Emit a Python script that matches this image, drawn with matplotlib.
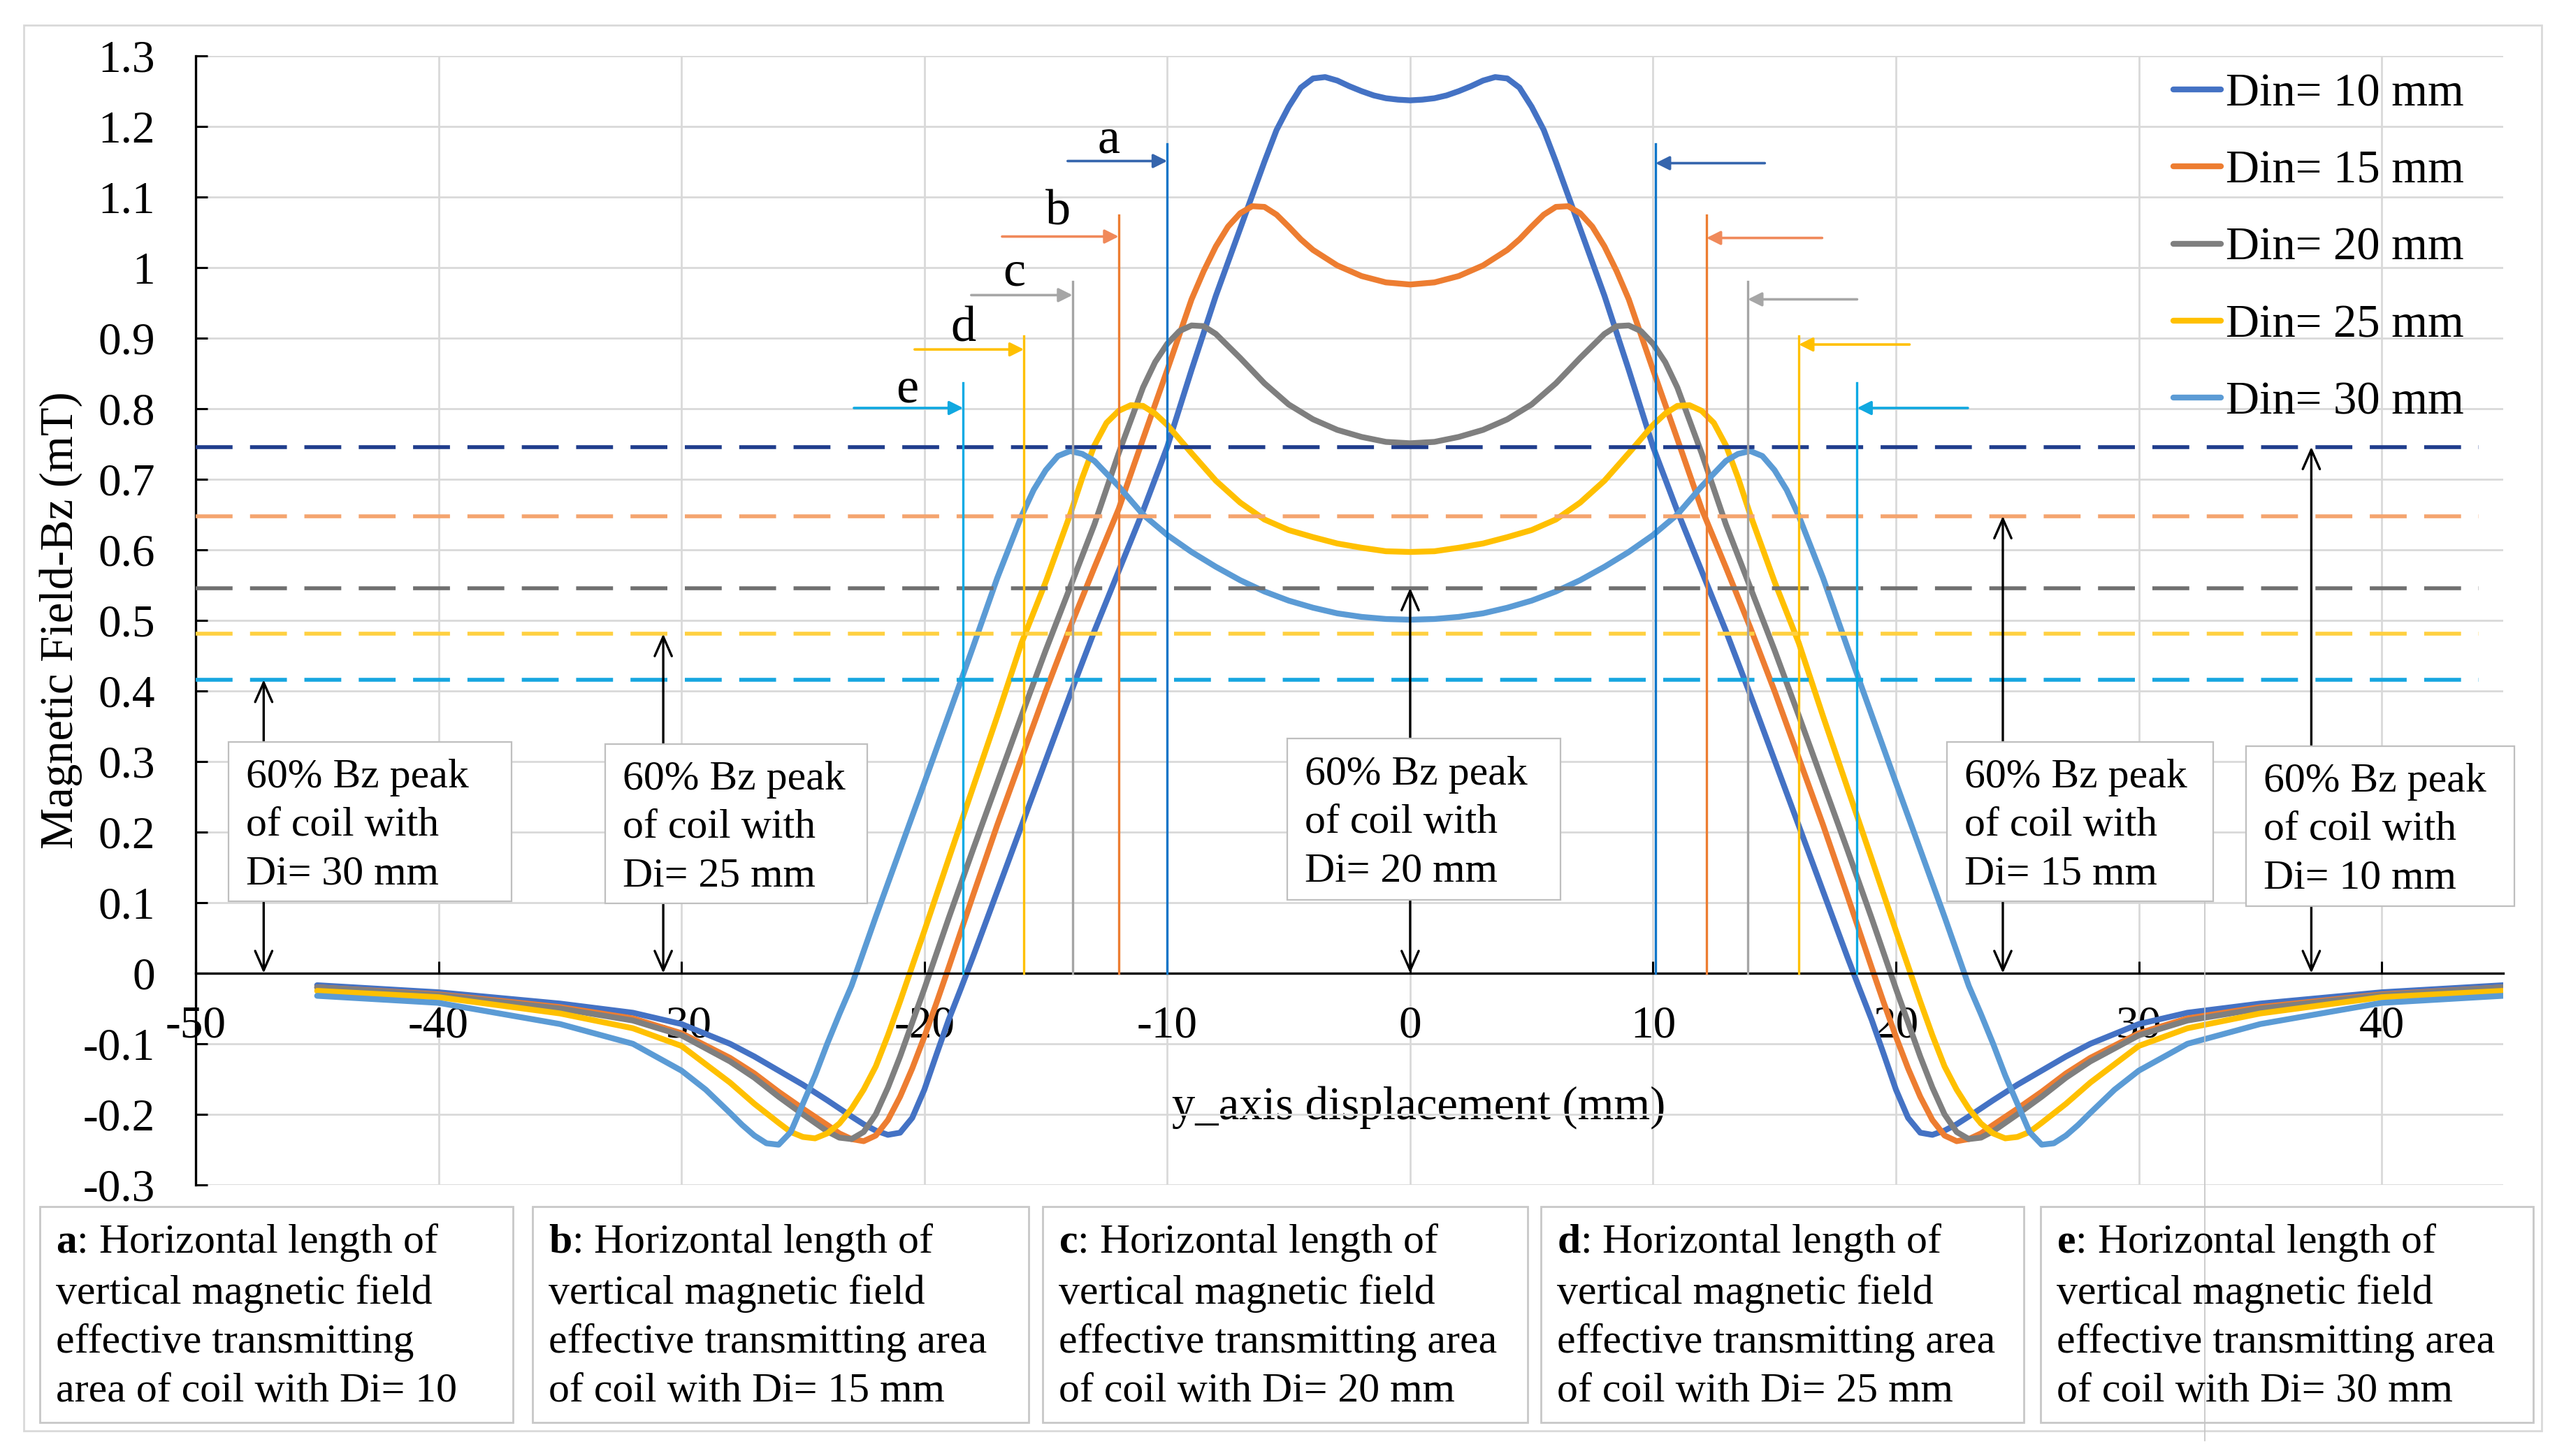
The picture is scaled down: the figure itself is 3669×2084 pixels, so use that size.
import matplotlib
matplotlib.use("Agg")
import matplotlib.pyplot as plt
from matplotlib.patches import Rectangle
from matplotlib.lines import Line2D

plt.rcParams['font.family'] = ['Liberation Serif', 'DejaVu Serif']
plt.rcParams['mathtext.fontset'] = 'custom'
plt.rcParams['mathtext.rm'] = 'Liberation Serif'
plt.rcParams['mathtext.bf'] = 'Liberation Serif:bold'

# ---- data (y displacement in mm, Bz in mT) ----
x_din10 = [-45, -40, -35, -32, -30, -28, -27, -26, -25, -24, -23, -22.5, -22, -21.5, -21,
           -20.5, -20, -19.5, -19, -18.5, -18, -17, -16, -15, -14, -13, -12, -11, -10, -9,
           -8, -7, -6, -5.5, -5, -4.5, -4, -3.5, -3, -2.5, -2, -1.5, -1, -0.5, 0,
           0.5, 1, 1.5, 2, 2.5, 3, 3.5, 4, 4.5, 5, 5.5, 6, 7, 8, 9, 10, 11, 12, 13, 14,
           15, 16, 17, 18, 18.5, 19, 19.5, 20, 20.5, 21, 21.5, 22, 22.5, 23, 24, 25, 26,
           27, 28, 30, 32, 35, 40, 45]
bz_din10 = [-0.017, -0.027, -0.043, -0.056, -0.072, -0.100, -0.118, -0.138, -0.158, -0.180,
            -0.203, -0.214, -0.223, -0.229, -0.226, -0.205, -0.165, -0.115, -0.066, -0.022,
            0.023, 0.116, 0.209, 0.302, 0.395, 0.485, 0.570, 0.655, 0.746, 0.855, 0.960,
            1.055, 1.150, 1.195, 1.228, 1.255, 1.268, 1.270, 1.265, 1.257, 1.250, 1.244,
            1.240, 1.238, 1.237,
            1.238, 1.240, 1.244, 1.250, 1.257, 1.265, 1.270, 1.268, 1.255, 1.228, 1.195,
            1.150, 1.055, 0.960, 0.855, 0.746, 0.655, 0.570, 0.485, 0.395, 0.302, 0.209,
            0.116, 0.023, -0.022, -0.066, -0.115, -0.165, -0.205, -0.226, -0.229, -0.223,
            -0.214, -0.203, -0.180, -0.158, -0.138, -0.118, -0.100, -0.072, -0.056, -0.043,
            -0.027, -0.017]

x_din15 = [-45, -40, -35, -32, -30, -28, -27, -26, -25, -24, -23.5, -23, -22.5, -22, -21.5,
           -21, -20.5, -20, -19.5, -19, -18, -17, -16, -15, -14, -13, -12, -11, -10, -9,
           -8.5, -8, -7.5, -7, -6.5, -6, -5.5, -5, -4.5, -4, -3, -2, -1, 0,
           1, 2, 3, 4, 4.5, 5, 5.5, 6, 6.5, 7, 7.5, 8, 8.5, 9, 10, 11, 12, 13, 14, 15, 16,
           17, 18, 19, 19.5, 20, 20.5, 21, 21.5, 22, 22.5, 23, 23.5, 24, 25, 26, 27, 28,
           30, 32, 35, 40, 45]
bz_din15 = [-0.020, -0.030, -0.048, -0.064, -0.085, -0.120, -0.142, -0.168, -0.192, -0.215,
            -0.227, -0.235, -0.238, -0.230, -0.208, -0.175, -0.135, -0.090, -0.042, 0.008,
            0.110, 0.210, 0.305, 0.400, 0.490, 0.575, 0.658, 0.757, 0.855, 0.955, 0.995,
            1.030, 1.058, 1.077, 1.087, 1.086, 1.075, 1.058, 1.040, 1.025, 1.003, 0.988,
            0.979, 0.976,
            0.979, 0.988, 1.003, 1.025, 1.040, 1.058, 1.075, 1.086, 1.087, 1.077, 1.058,
            1.030, 0.995, 0.955, 0.855, 0.757, 0.658, 0.575, 0.490, 0.400, 0.305, 0.210,
            0.110, 0.008, -0.042, -0.090, -0.135, -0.175, -0.208, -0.230, -0.238, -0.235,
            -0.227, -0.215, -0.192, -0.168, -0.142, -0.120, -0.085, -0.064, -0.048, -0.030,
            -0.020]

x_din20 = [-45, -40, -35, -32, -30, -28, -27, -26, -25, -24, -23.5, -23, -22.5, -22, -21.5,
           -21, -20.5, -20, -19, -18, -17, -16, -15, -14, -13, -12, -11, -10.5, -10, -9.5,
           -9, -8.5, -8, -7, -6, -5, -4, -3, -2, -1, 0,
           1, 2, 3, 4, 5, 6, 7, 8, 8.5, 9, 9.5, 10, 10.5, 11, 12, 13, 14, 15, 16, 17, 18,
           19, 20, 20.5, 21, 21.5, 22, 22.5, 23, 23.5, 24, 25, 26, 27, 28, 30, 32, 35, 40, 45]
bz_din20 = [-0.020, -0.031, -0.050, -0.067, -0.088, -0.125, -0.148, -0.175, -0.200, -0.224,
            -0.233, -0.235, -0.225, -0.200, -0.162, -0.118, -0.070, -0.022, 0.078, 0.175,
            0.270, 0.365, 0.458, 0.547, 0.636, 0.737, 0.830, 0.866, 0.892, 0.910, 0.918,
            0.917, 0.906, 0.872, 0.836, 0.806, 0.785, 0.770, 0.760, 0.753, 0.751,
            0.753, 0.760, 0.770, 0.785, 0.806, 0.836, 0.872, 0.906, 0.917, 0.918, 0.910,
            0.892, 0.866, 0.830, 0.737, 0.636, 0.547, 0.458, 0.365, 0.270, 0.175, 0.078,
            -0.022, -0.070, -0.118, -0.162, -0.200, -0.225, -0.235, -0.233, -0.224, -0.200,
            -0.175, -0.148, -0.125, -0.088, -0.067, -0.050, -0.031, -0.020]

x_din25 = [-45, -40, -35, -32, -30, -28, -27, -26, -25.5, -25, -24.5, -24, -23.5, -23, -22.5,
           -22, -21.5, -21, -20, -19, -18, -17, -16, -15, -14, -13.5, -13, -12.5, -12, -11.5,
           -11, -10.5, -10, -9, -8, -7, -6, -5, -4, -3, -2, -1, 0,
           1, 2, 3, 4, 5, 6, 7, 8, 9, 10, 10.5, 11, 11.5, 12, 12.5, 13, 13.5, 14, 15, 16,
           17, 18, 19, 20, 21, 21.5, 22, 22.5, 23, 23.5, 24, 24.5, 25, 25.5, 26, 27, 28, 30,
           32, 35, 40, 45]
bz_din25 = [-0.025, -0.034, -0.057, -0.078, -0.103, -0.155, -0.185, -0.212, -0.225, -0.232,
            -0.234, -0.227, -0.213, -0.192, -0.165, -0.132, -0.088, -0.040, 0.060, 0.162,
            0.263, 0.364, 0.468, 0.555, 0.650, 0.702, 0.748, 0.780, 0.797, 0.805, 0.804,
            0.793, 0.777, 0.737, 0.698, 0.667, 0.643, 0.628, 0.618, 0.609, 0.603, 0.598,
            0.597,
            0.598, 0.603, 0.609, 0.618, 0.628, 0.643, 0.667, 0.698, 0.737, 0.777, 0.793,
            0.804, 0.805, 0.797, 0.780, 0.748, 0.702, 0.650, 0.555, 0.468, 0.364, 0.263,
            0.162, 0.060, -0.040, -0.088, -0.132, -0.165, -0.192, -0.213, -0.227, -0.234,
            -0.232, -0.225, -0.212, -0.185, -0.155, -0.103, -0.078, -0.057, -0.034, -0.025]

x_din30 = [-45, -40, -35, -32, -30, -29, -28, -27.5, -27, -26.5, -26, -25.5, -25, -24.5, -24,
           -23.5, -23, -22, -21, -20, -19, -18, -17, -16, -15.5, -15, -14.5, -14, -13.5, -13,
           -12, -11, -10, -9, -8, -7, -6, -5, -4, -3, -2, -1, 0,
           1, 2, 3, 4, 5, 6, 7, 8, 9, 10, 11, 12, 13, 13.5, 14, 14.5, 15, 15.5, 16, 17, 18,
           19, 20, 21, 22, 23, 23.5, 24, 24.5, 25, 25.5, 26, 26.5, 27, 27.5, 28, 29, 30, 32,
           35, 40, 45]
bz_din30 = [-0.032, -0.042, -0.072, -0.100, -0.138, -0.165, -0.198, -0.215, -0.230, -0.241,
            -0.243, -0.225, -0.185, -0.145, -0.100, -0.058, -0.018, 0.080, 0.175, 0.270,
            0.366, 0.462, 0.560, 0.648, 0.685, 0.713, 0.733, 0.740, 0.736, 0.726, 0.690,
            0.650, 0.621, 0.597, 0.576, 0.557, 0.541, 0.528, 0.518, 0.510, 0.505, 0.502,
            0.501,
            0.502, 0.505, 0.510, 0.518, 0.528, 0.541, 0.557, 0.576, 0.597, 0.621, 0.650,
            0.690, 0.726, 0.736, 0.740, 0.733, 0.713, 0.685, 0.648, 0.560, 0.462, 0.366,
            0.270, 0.175, 0.080, -0.018, -0.058, -0.100, -0.145, -0.185, -0.225, -0.243,
            -0.241, -0.230, -0.215, -0.198, -0.165, -0.138, -0.100, -0.072, -0.042, -0.032]

series_x = [x_din10, x_din15, x_din20, x_din25, x_din30]
series_y = [bz_din10, bz_din15, bz_din20, bz_din25, bz_din30]
series_labels = ['Din= 10 mm', 'Din= 15 mm', 'Din= 20 mm', 'Din= 25 mm', 'Din= 30 mm']
series_colors = ['#4472C4', '#ED7D31', '#7F7F7F', '#FFC000', '#5B9BD5']

# 60 % of peak levels
level_vals = [0.746, 0.648, 0.546, 0.481, 0.416]
level_colors = ['#1F3C8C', '#F4A46E', '#6F6F6F', '#FFD040', '#16A6E0']

# effective-area markers a..e
mark_names = ['a', 'b', 'c', 'd', 'e']
mark_left = [-10.0, -12.0, -13.9, -15.9, -18.4]
mark_right = [10.1, 12.2, 13.9, 16.0, 18.4]
mark_colors = ['#0F75C8', '#ED7D31', '#A5A5A5', '#FFC000', '#0AAAE4']
arrow_colors = ['#3565AD', '#F0895A', '#A6A6A6', '#FFC000', '#10A8E0']

# black 60 % arrows and their notes
note_x = [-47.2, -30.75, 0.0, 24.4, 37.1]
note_top = [0.416, 0.481, 0.546, 0.648, 0.746]
note_di = ['Di= 30 mm', 'Di= 25 mm', 'Di= 20 mm', 'Di= 15 mm', 'Di= 10 mm']

x_ticks = [-50, -40, -30, -20, -10, 0, 10, 20, 30, 40]
x_tick_labels = ['-50', '-40', '-30', '-20', '-10', '0', '10', '20', '30', '40']
y_ticks = [-0.3, -0.2, -0.1, 0.0, 0.1, 0.2, 0.3, 0.4, 0.5, 0.6, 0.7, 0.8, 0.9, 1.0, 1.1, 1.2, 1.3]
y_tick_labels = ['-0.3', '-0.2', '-0.1', '0', '0.1', '0.2', '0.3', '0.4', '0.5', '0.6', '0.7',
                 '0.8', '0.9', '1', '1.1', '1.2', '1.3']

bottom_notes = [
    r'$\mathbf{a}$: Horizontal length of' + '\nvertical magnetic field\neffective transmitting\narea of coil with Di= 10',
    r'$\mathbf{b}$: Horizontal length of' + '\nvertical magnetic field\neffective transmitting area\nof coil with Di= 15 mm',
    r'$\mathbf{c}$: Horizontal length of' + '\nvertical magnetic field\neffective transmitting area\nof coil with Di= 20 mm',
    r'$\mathbf{d}$: Horizontal length of' + '\nvertical magnetic field\neffective transmitting area\nof coil with Di= 25 mm',
    r'$\mathbf{e}$: Horizontal length of' + '\nvertical magnetic field\neffective transmitting area\nof coil with Di= 30 mm',
]

W, H = 3669, 2084


def fx(px):
    return px / W


def fy(py):
    return 1 - py / H


fig = plt.figure(figsize=(W / 100, H / 100), dpi=100)
fig.patch.set_facecolor('white')

# outer frame of the whole picture
fig.add_artist(Rectangle((fx(34), fy(2048)), (3637 - 34) / W, (2048 - 36) / H,
                         transform=fig.transFigure, fill=False, ec='#D9D9D9', lw=2))
# stray thin line at the lower right
fig.add_artist(Line2D([fx(3155), fx(3155)], [fy(1291), fy(2062)], transform=fig.transFigure,
                      color='#C4C4C4', lw=1.2))

ax = fig.add_axes([fx(280), fy(1696), (3582 - 280) / W, (1696 - 80) / H])
ax.set_xlim(-50, 45)
ax.set_ylim(-0.3, 1.3)
ax.set_xticks(x_ticks)
ax.set_xticklabels(x_tick_labels)
ax.set_yticks(y_ticks)
ax.set_yticklabels(y_tick_labels)
ax.spines['bottom'].set_position(('data', 0))
ax.spines['top'].set_visible(False)
ax.spines['right'].set_visible(False)
for s in ['left', 'bottom']:
    ax.spines[s].set_linewidth(2.4)
    ax.spines[s].set_color('black')
ax.tick_params(axis='both', direction='in', length=12, width=2.2, labelsize=47)
ax.tick_params(axis='x', pad=33)
ax.tick_params(axis='y', pad=42)
ax.grid(True, color='#D9D9D9', lw=2)
ax.set_axisbelow(True)

ax.set_xlabel('y_axis displacement (mm)', fontsize=48)
ax.xaxis.set_label_coords(0.530, 0.088)
ax.set_ylabel('Magnetic Field-Bz (mT)', fontsize=48)
ax.yaxis.set_label_coords(-0.049, 0.5)

# curves
handles = []
for xs, vals, lab, col in zip(series_x, series_y, series_labels, series_colors):
    ln, = ax.plot(xs, vals, color=col, lw=6, label=lab, zorder=2,
                  solid_joinstyle='round', solid_capstyle='round')
    handles.append(ln)

# 60 % dashed levels
for v, c in zip(level_vals, level_colors):
    ax.plot([-50, 44], [v, v], color=c, lw=4, dashes=(9.5, 4.5), zorder=3)

# marker lines with arrows and letters
mark_top = [1.175, 1.074, 0.980, 0.903, 0.837]
arr_y_left = [1.151, 1.044, 0.961, 0.884, 0.801]
arr_y_right = [1.148, 1.042, 0.955, 0.891, 0.801]
arr_start_left = [-14.1, -16.8, -18.07, -20.4, -22.9]
arr_start_right = [14.6, 16.96, 18.4, 20.56, 22.96]
letter_xy = [(-12.4, 1.18), (-14.5, 1.078), (-16.3, 0.992), (-18.4, 0.913), (-20.7, 0.827)]
for i in range(5):
    for xm in (mark_left[i], mark_right[i]):
        ax.plot([xm, xm], [0, mark_top[i]], color=mark_colors[i], lw=2.4, zorder=3)
    ax.annotate('', xy=(mark_left[i], arr_y_left[i]), xytext=(arr_start_left[i], arr_y_left[i]),
                arrowprops=dict(arrowstyle='-|>', color=arrow_colors[i], lw=2.6,
                                mutation_scale=30, shrinkA=0, shrinkB=0), zorder=4)
    ax.annotate('', xy=(mark_right[i], arr_y_right[i]), xytext=(arr_start_right[i], arr_y_right[i]),
                arrowprops=dict(arrowstyle='-|>', color=arrow_colors[i], lw=2.6,
                                mutation_scale=30, shrinkA=0, shrinkB=0), zorder=4)
    ax.text(letter_xy[i][0], letter_xy[i][1], mark_names[i], fontsize=52,
            ha='center', va='center', zorder=4)

# 60 % notes
note_boxes = [(-48.64, -37.0, 0.102, 0.328), (-33.13, -22.35, 0.099, 0.325),
              (-5.07, 6.2, 0.104, 0.333), (22.1, 33.07, 0.102, 0.328),
              (34.4, 45.45, 0.095, 0.322)]
for xa, top, di, (x0, x1, y0, y1) in zip(note_x, note_top, note_di, note_boxes):
    ax.annotate('', xy=(xa, top), xytext=(xa, 0),
                arrowprops=dict(arrowstyle='<->,head_length=0.5,head_width=0.22', color='black',
                                lw=2.4, mutation_scale=40, shrinkA=0, shrinkB=0), zorder=5)
    ax.add_patch(Rectangle((x0, y0), x1 - x0, y1 - y0, facecolor='white', edgecolor='#BFBFBF',
                           lw=1.6, zorder=6, clip_on=False))
    ax.text(x0 + 0.72, (y0 + y1) / 2 - 0.006, '60% Bz peak\nof coil with\n' + di, fontsize=43,
            ha='left', va='center', linespacing=1.37, zorder=7, clip_on=False)

leg = ax.legend(handles=handles, loc='upper left', bbox_to_anchor=(0.857, 0.985), frameon=False,
                fontsize=48, handlelength=1.03, handletextpad=0.1, labelspacing=0.74,
                borderpad=0, borderaxespad=0)

# notes below the chart
box_px = [(57, 734), (762, 1472), (1492, 2186), (2205, 2896), (2920, 3625)]
for (b0, b1), txt in zip(box_px, bottom_notes):
    fig.add_artist(Rectangle((fx(b0), fy(2036)), (b1 - b0) / W, (2036 - 1727) / H,
                             transform=fig.transFigure, facecolor='white', edgecolor='#C8C8C8',
                             lw=2))
    fig.text(fx(b0 + 23), fy(1884), txt, fontsize=43, ha='left', va='center',
             linespacing=1.37)

fig.savefig('out.png', dpi=100, facecolor='white')
